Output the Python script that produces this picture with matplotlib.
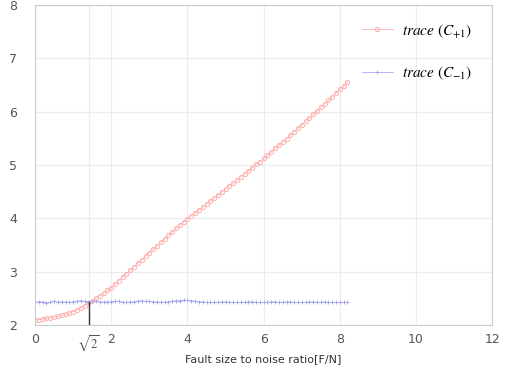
import numpy as np
import matplotlib
matplotlib.use('Agg')
from matplotlib import pyplot as plt

plt.rcParams['mathtext.fontset'] = 'stix'

# fault size to noise ratio (F/N)
ratio = [0.0, 0.1, 0.2, 0.3, 0.4, 0.5, 0.6, 0.7, 0.8, 0.9,
         1.0, 1.1, 1.2, 1.3, 1.4, 1.5, 1.6, 1.7, 1.8, 1.9,
         2.0, 2.1, 2.2, 2.3, 2.4, 2.5, 2.6, 2.7, 2.8, 2.9,
         3.0, 3.1, 3.2, 3.3, 3.4, 3.5, 3.6, 3.7, 3.8, 3.9,
         4.0, 4.1, 4.2, 4.3, 4.4, 4.5, 4.6, 4.7, 4.8, 4.9,
         5.0, 5.1, 5.2, 5.3, 5.4, 5.5, 5.6, 5.7, 5.8, 5.9,
         6.0, 6.1, 6.2, 6.3, 6.4, 6.5, 6.6, 6.7, 6.8, 6.9,
         7.0, 7.1, 7.2, 7.3, 7.4, 7.5, 7.6, 7.7, 7.8, 7.9,
         8.0, 8.1, 8.2]

trace_pos = [2.10, 2.10, 2.11, 2.12, 2.13, 2.14, 2.16, 2.18, 2.20, 2.22,
             2.25, 2.28, 2.32, 2.36, 2.41, 2.45, 2.50, 2.55, 2.60, 2.65,
             2.70, 2.77, 2.83, 2.90, 2.96, 3.03, 3.09, 3.16, 3.22, 3.29,
             3.35, 3.42, 3.48, 3.55, 3.61, 3.68, 3.74, 3.81, 3.87, 3.93,
             3.99, 4.05, 4.10, 4.16, 4.21, 4.27, 4.33, 4.38, 4.44, 4.50,
             4.55, 4.61, 4.66, 4.72, 4.78, 4.83, 4.89, 4.95, 5.01, 5.06,
             5.12, 5.18, 5.24, 5.31, 5.37, 5.43, 5.49, 5.56, 5.62, 5.69,
             5.75, 5.82, 5.88, 5.95, 6.01, 6.08, 6.15, 6.21, 6.28, 6.35,
             6.42, 6.48, 6.55]

trace_neg = [2.42, 2.43, 2.43, 2.41, 2.42, 2.44, 2.42, 2.43, 2.43, 2.42,
             2.43, 2.44, 2.45, 2.44, 2.43, 2.44, 2.44, 2.43, 2.42, 2.43,
             2.43, 2.44, 2.44, 2.42, 2.42, 2.43, 2.43, 2.44, 2.45, 2.44,
             2.44, 2.43, 2.43, 2.42, 2.42, 2.43, 2.44, 2.45, 2.45, 2.46,
             2.46, 2.45, 2.44, 2.43, 2.43, 2.42, 2.42, 2.42, 2.42, 2.43,
             2.43, 2.42, 2.42, 2.42, 2.42, 2.42, 2.43, 2.43, 2.42, 2.42,
             2.42, 2.42, 2.43, 2.43, 2.42, 2.42, 2.43, 2.43, 2.42, 2.42,
             2.42, 2.42, 2.43, 2.43, 2.42, 2.42, 2.43, 2.42, 2.42, 2.42,
             2.42, 2.42, 2.42]

xtick_vals = [0, np.sqrt(2), 2, 4, 6, 8, 10, 12]
xtick_labels = ['0', r'$\sqrt{2}$', '2', '4', '6', '8', '10', '12']
cross_x = np.sqrt(2)
cross_y = 2.43

fig = plt.figure(figsize=(5.08, 3.76), dpi=100)
ax = fig.add_axes([0.069, 0.136, 0.9, 0.851])

ax.plot(ratio, trace_pos, color='#ffb0b0', marker='o', markersize=3,
        markerfacecolor='none', markeredgewidth=0.7, linewidth=0.6,
        label=r'$trace\ (C_{+1})$')
ax.plot(ratio, trace_neg, color='#a8a8ee', marker='+', markersize=3,
        markeredgewidth=0.7, linewidth=0.6, label=r'$trace\ (C_{-1})$')

# mark the crossing point
ax.plot([cross_x, cross_x], [2, cross_y], color='#333333', linewidth=1)

ax.set_xlim(0, 12)
ax.set_ylim(2, 8)
ax.set_xticks(xtick_vals)
ax.set_xticklabels(xtick_labels)
ax.set_yticks([2, 3, 4, 5, 6, 7, 8])
ax.tick_params(labelsize=9, colors='#555555', length=0)
ax.tick_params(axis='x', pad=6)
ax.tick_params(axis='y', pad=13)
ax.grid(True, color='#ececec', linewidth=0.8)
for s in ax.spines.values():
    s.set_color('#cccccc')

ax.set_xlabel('Fault size to noise ratio[F/N]', fontsize=8, labelpad=0,
              color='#333333')

leg = ax.legend(loc='upper left', bbox_to_anchor=(0.685, 0.99), frameon=False,
                fontsize=11, labelspacing=1.6, handlelength=2.0,
                handletextpad=0.6)

fig.savefig('out.png', dpi=100)
